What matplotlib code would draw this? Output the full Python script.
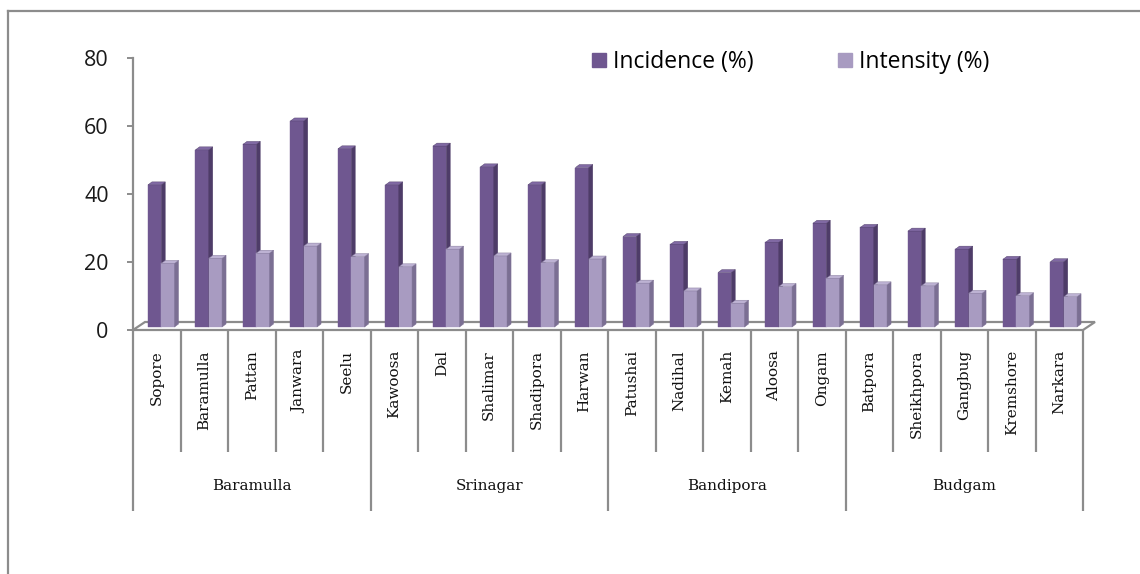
import matplotlib
matplotlib.use("Agg")
import matplotlib.pyplot as plt
from matplotlib.patches import Polygon, Patch
from matplotlib.lines import Line2D
import numpy as np

# ---------------- data ----------------
districts = ["Baramulla", "Srinagar", "Bandipora", "Budgam"]
sites_per_district = [5, 5, 5, 5]
sites = ["Sopore", "Baramulla", "Pattan", "Janwara", "Seelu",
         "Kawoosa", "Dal", "Shalimar", "Shadipora", "Harwan",
         "Patushai", "Nadihal", "Kemah", "Aloosa", "Ongam",
         "Batpora", "Sheikhpora", "Gangbug", "Kremshore", "Narkara"]
incidence = [41.8, 52.1, 53.7, 60.6, 52.4,
             41.8, 53.2, 47.1, 41.8, 46.9,
             26.6, 24.3, 16.0, 24.9, 30.5,
             29.3, 28.2, 22.9, 19.9, 19.2]
intensity = [18.7, 20.2, 21.7, 23.8, 20.7,
             17.7, 22.9, 20.9, 18.9, 20.0,
             12.9, 10.6, 7.0, 11.9, 14.3,
             12.4, 12.1, 9.9, 9.2, 8.9]
series_names = ["Incidence (%)", "Intensity (%)"]
yticks = [0, 20, 40, 60, 80]

# ---------------- style ----------------
inc_front, inc_side, inc_top = "#6f5790", "#4e3c68", "#8069a3"
int_front, int_side, int_top = "#a89bc1", "#7b6f93", "#bdb2d3"
gray = "#8c8c8c"

W, H = 1140, 574
fig = plt.figure(figsize=(W / 100, H / 100), dpi=100)

def fx(px):
    return px / W

def fy(py):
    return 1 - py / H

ax_left, ax_right, ax_top, ax_bot = 133, 1083, 58, 330
ax = fig.add_axes([fx(ax_left), fy(ax_bot), (ax_right - ax_left) / W, (ax_bot - ax_top) / H])
n = len(sites)
ax.set_xlim(0, n)
ax.set_ylim(0, 80)

ppx = (ax_right - ax_left) / n   # pixels per x unit
ppy = (ax_bot - ax_top) / 80.0   # pixels per y unit

def px2d(dxp, dyp):
    return dxp / ppx, dyp / ppy

# floor (3D depth)
fdx, fdy = px2d(12, 8)
floor = Polygon([(0, 0), (n, 0), (n + fdx, fdy), (fdx, fdy)], closed=True,
                facecolor="white", edgecolor=gray, lw=1.6, clip_on=False, zorder=1)
ax.add_patch(floor)

# bars
sx, sy = px2d(4.5, 3)      # bar placement inside the floor depth
ddx, ddy = px2d(4, 3)      # bar depth
w = 13.3 / ppx
x = np.arange(n) + 0.5

def bar3d(xc, v, front, side, top, z):
    xl, xr = xc - w / 2 + sx, xc + w / 2 + sx
    b = sy
    ax.add_patch(Polygon([(xl, b), (xr, b), (xr, b + v), (xl, b + v)], closed=True,
                         facecolor=front, edgecolor=front, lw=0.3, zorder=z, clip_on=False))
    ax.add_patch(Polygon([(xr, b), (xr + ddx, b + ddy), (xr + ddx, b + v + ddy), (xr, b + v)],
                         closed=True, facecolor=side, edgecolor=side, lw=0.3, zorder=z, clip_on=False))
    ax.add_patch(Polygon([(xl, b + v), (xr, b + v), (xr + ddx, b + v + ddy), (xl + ddx, b + v + ddy)],
                         closed=True, facecolor=top, edgecolor=side, lw=0.3, zorder=z, clip_on=False))

for i in range(n):
    bar3d(x[i] - w / 2, incidence[i], inc_front, inc_side, inc_top, 3 + 2 * i)
    bar3d(x[i] + w / 2, intensity[i], int_front, int_side, int_top, 4 + 2 * i)

# axes styling
for s in ["top", "right", "bottom"]:
    ax.spines[s].set_visible(False)
ax.spines["left"].set_color(gray)
ax.spines["left"].set_linewidth(1.6)
ax.set_xticks([])
ax.set_yticks(yticks)
ax.tick_params(axis="y", direction="out", length=4.5, width=1.4, color=gray,
               pad=13, labelsize=15.5, labelcolor="#1a1a1a")
for lab in ax.get_yticklabels():
    lab.set_fontfamily("Open Sans")
ax.patch.set_alpha(0)

# category lines and labels
tr = ax.get_xaxis_transform()
def ay(py):
    return (ax_bot - py) / (ax_bot - ax_top)

bounds = np.concatenate([[0], np.cumsum(sites_per_district)])
for i in range(n + 1):
    long = i in bounds
    ax.plot([i, i], [0, ay(511 if long else 452)], color=gray, lw=1.6,
            transform=tr, clip_on=False, solid_capstyle="butt")
for i, s in enumerate(sites):
    ax.text(i + 0.5, ay(350), s, rotation=90, ha="center", va="top", transform=tr,
            fontfamily="DejaVu Serif", fontsize=11, color="#111111")
for g, d in enumerate(districts):
    xc = (bounds[g] + bounds[g + 1]) / 2
    ax.text(xc, ay(486), d, ha="center", va="center", transform=tr,
            fontfamily="DejaVu Serif", fontsize=11, color="#111111")

# legend
handles = [Patch(facecolor=inc_front, edgecolor=inc_front),
           Patch(facecolor=int_front, edgecolor=int_front)]
fig.legend(handles, series_names, loc="upper left", bbox_to_anchor=(fx(592), fy(50)),
           ncol=2, frameon=False, prop={"family": "Open Sans", "size": 16.5},
           handlelength=0.6, handleheight=0.6, handletextpad=0.3, columnspacing=3.72,
           borderpad=0, borderaxespad=0)

# outer frame
fig.add_artist(Line2D([fx(8), fx(8)], [fy(11), 0], color=gray, lw=1.6))
fig.add_artist(Line2D([fx(8), 1], [fy(11), fy(11)], color=gray, lw=1.6))

fig.savefig("out.png", dpi=100)
